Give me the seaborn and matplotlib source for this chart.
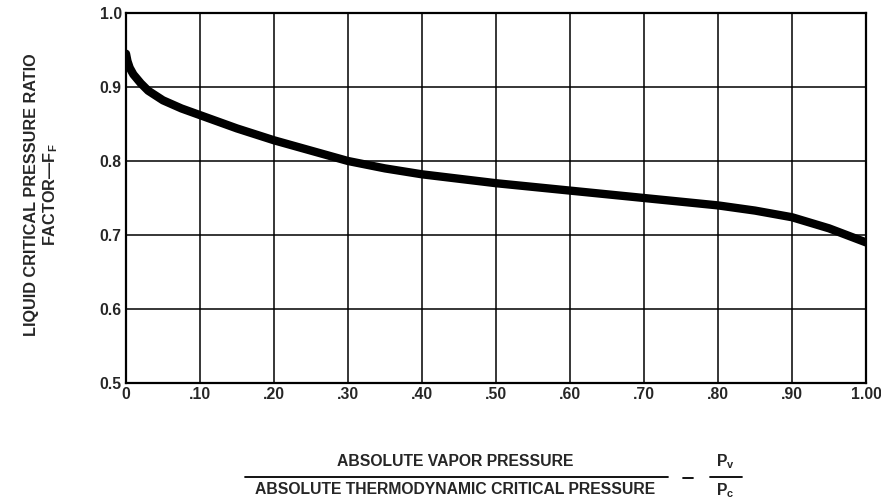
import matplotlib
matplotlib.use("Agg")
import matplotlib.pyplot as plt
from matplotlib import font_manager
import seaborn as sns
import pandas as pd

# Pressure ratio Pv/Pc and the liquid critical pressure ratio factor FF
pressure_ratio = [0.0, 0.002, 0.005, 0.01, 0.02, 0.03, 0.05, 0.075, 0.10, 0.15, 0.20, 0.25,
                  0.30, 0.35, 0.40, 0.50, 0.60, 0.70, 0.80, 0.85, 0.90, 0.95, 1.00]
ff_factor = [0.945, 0.935, 0.926, 0.917, 0.905, 0.895, 0.882, 0.871, 0.862, 0.844, 0.828, 0.814,
             0.800, 0.790, 0.782, 0.770, 0.760, 0.750, 0.740, 0.733, 0.724, 0.709, 0.690]

x_ticks = [0.0, 0.1, 0.2, 0.3, 0.4, 0.5, 0.6, 0.7, 0.8, 0.9, 1.0]
x_tick_labels = ["0", ".10", ".20", ".30", ".40", ".50", ".60", ".70", ".80", ".90", "1.00"]
y_ticks = [0.5, 0.6, 0.7, 0.8, 0.9, 1.0]
y_tick_labels = ["0.5", "0.6", "0.7", "0.8", "0.9", "1.0"]

sns.set_theme(style="white")

# Pick a bold sans-serif face file directly
bold_path = None
for fam in ["Liberation Sans", "Roboto", "DejaVu Sans"]:
    for f in font_manager.fontManager.ttflist:
        if f.name == fam and f.weight in (700, "bold") and f.style == "normal" \
                and "Narrow" not in f.fname and "Condensed" not in f.fname:
            bold_path = f.fname
            break
    if bold_path:
        break
if bold_path:
    font_manager.fontManager.addfont(bold_path)
    bold_name = font_manager.FontProperties(fname=bold_path).get_name()
else:
    bold_name = "DejaVu Sans"

plt.rcParams["font.family"] = [bold_name, "DejaVu Sans"]
plt.rcParams["font.weight"] = "bold"
plt.rcParams["mathtext.fontset"] = "custom"
plt.rcParams["mathtext.rm"] = f"{bold_name}:bold"
plt.rcParams["mathtext.it"] = f"{bold_name}:bold"
plt.rcParams["mathtext.bf"] = f"{bold_name}:bold"


def bold(size):
    if bold_path:
        return font_manager.FontProperties(fname=bold_path, size=size)
    return font_manager.FontProperties(weight="bold", size=size)


df = pd.DataFrame({"ratio": pressure_ratio, "ff": ff_factor})

fig = plt.figure(figsize=(8.81, 5.0), dpi=100)
ax = fig.add_axes([0.143, 0.234, 0.840, 0.740])

sns.lineplot(data=df, x="ratio", y="ff", ax=ax, color="black", linewidth=6,
             solid_capstyle="round", solid_joinstyle="round", zorder=3)

ax.set_xlim(0, 1.0)
ax.set_ylim(0.5, 1.0)
ax.set_xticks(x_ticks)
ax.set_xticklabels(x_tick_labels, fontproperties=bold(11.3))
ax.set_yticks(y_ticks)
ax.set_yticklabels(y_tick_labels, fontproperties=bold(11.3))
ax.tick_params(axis="both", length=0, pad=3)
ax.grid(True, color="black", linewidth=1.1)
for sp in ax.spines.values():
    sp.set_color("black")
    sp.set_linewidth(1.6)
ax.set_xlabel("")
ax.set_ylabel("")

# Vertical axis title, two lines
fig.text(32 / 881, 1 - 195 / 500, "LIQUID CRITICAL PRESSURE RATIO", rotation=90,
         ha="center", va="center", fontproperties=bold(11.7))
fig.text(51 / 881, 1 - 195 / 500, r"FACTOR—F$_{\mathrm{F}}$", rotation=90,
         ha="center", va="center", fontproperties=bold(11.7))

# Horizontal axis title as a fraction
fig.text(455 / 881, 1 - 462 / 500, "ABSOLUTE VAPOR PRESSURE",
         ha="center", va="center", fontproperties=bold(11.3))
fig.text(455 / 881, 1 - 490 / 500, "ABSOLUTE THERMODYNAMIC CRITICAL PRESSURE",
         ha="center", va="center", fontproperties=bold(11.3))
fig.add_artist(plt.Line2D([245 / 881, 668 / 881], [1 - 477 / 500, 1 - 477 / 500],
                          color="black", linewidth=1.3, transform=fig.transFigure))
fig.add_artist(plt.Line2D([683 / 881, 693 / 881], [1 - 478 / 500, 1 - 478 / 500],
                          color="black", linewidth=1.3, transform=fig.transFigure))
fig.text(725 / 881, 1 - 462 / 500, r"P$_{\mathrm{v}}$", ha="center", va="center",
         fontproperties=bold(11.3))
fig.text(725 / 881, 1 - 491 / 500, r"P$_{\mathrm{c}}$", ha="center", va="center",
         fontproperties=bold(11.3))
fig.add_artist(plt.Line2D([710 / 881, 742 / 881], [1 - 477 / 500, 1 - 477 / 500],
                          color="black", linewidth=1.3, transform=fig.transFigure))

fig.savefig("out.png", dpi=100, facecolor="white")
